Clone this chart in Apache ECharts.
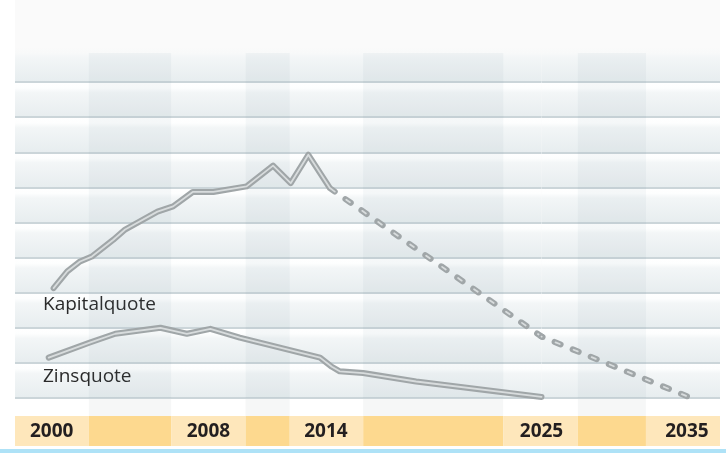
<!DOCTYPE html>
<html>
<head>
<meta charset="utf-8">
<script src="https://cdn.jsdelivr.net/npm/echarts@6/dist/echarts.min.js"></script>
<style>
  html, body { margin: 0; padding: 0; background: #fff; }
  #wrap { position: relative; width: 726px; height: 453px; }
  #panel { position: absolute; left: 15px; top: 0; width: 705px; height: 446px; background: #fafafa; }
  #chart { position: absolute; left: 0; top: 0; width: 726px; height: 453px; }
</style>
</head>
<body>
<div id="wrap"><div id="panel"></div><div id="chart"></div></div>
<script>
// values (x = year, y = share in grid units)
const yearLabels = [2000, 2008, 2014, 2025, 2035];

const kapitalYears  = [2000.1, 2000.8, 2001.45, 2002.05, 2003.15, 2003.75, 2005.4, 2006.2, 2007.2, 2008.25, 2009.95, 2011.3, 2012.2, 2013.1, 2014.2, 2014.45];
const kapitalValues = [3.13, 3.61, 3.89, 4.03, 4.51, 4.8, 5.31, 5.46, 5.87, 5.87, 6.03, 6.62, 6.12, 6.93, 5.98, 5.88];

// projection (dashed)
const kapitalProjYears  = [2014.45, 2025];
const kapitalProjValues = [5.88, 1.75];
const kapitalFarYears   = [2025, 2035];
const kapitalFarValues  = [1.75, 0.05];

const zinsYears  = [1999.85, 2001.95, 2003.25, 2005.55, 2006.9, 2008.1, 2009.6, 2013.7, 2014.3, 2014.7, 2015.9, 2018.6, 2025];
const zinsValues = [1.15, 1.58, 1.83, 2.0, 1.83, 1.97, 1.72, 1.15, 0.89, 0.76, 0.71, 0.47, 0.03];

// column edges of the background stripes [grid, year]; light / dark alternate
const columnEdges = [[0, 1998.13], [0, 2001.9], [0, 2006.1], [0, 2009.9], [0, 2012.15], [0, 2015.9], [0, 2023.05], [1, 2027.5], [1, 2032.18], [1, 2037.27]];

const pairs = (xs, ys) => xs.map((x, i) => [x, ys[i]]);

const chart = echarts.init(document.getElementById('chart'), null, { renderer: 'canvas' });

// each band: white strip under the line above, then fading darker to its own line
const G = echarts.graphic.LinearGradient;
const bandFill = (top) => new G(0, 0, 0, 1, [
  { offset: 0, color: top },
  { offset: 0.17, color: top === '#ffffff' ? '#fdfefe' : '#f8f9f9' },
  { offset: 0.3, color: '#f3f6f7' },
  { offset: 1, color: '#e7edef' }
]);
const bandColors = [];
for (let i = 0; i < 10; i++) bandColors.push(bandFill(i === 9 ? '#fafafa' : '#ffffff'));

const gapColor = 'rgba(110, 140, 150, 0.06)';
const lineGrey = '#a0a6a8';
const lineLight = '#d8dcdd';
const dashLen = 6.5, innerDash = 4.5, dashPeriod = 19.5;

const yAxisCfg = (gi) => ({
  type: 'value',
  gridIndex: gi,
  min: 0,
  max: 10,
  interval: 1,
  axisLine: { show: false },
  axisTick: { show: false },
  axisLabel: { show: false },
  splitLine: { show: true, showMaxLine: false, lineStyle: { color: '#cbd5d9', width: 2 } },
  splitArea: { show: true, areaStyle: { color: bandColors } }
});

const gapAreas = (gi) => {
  const out = [];
  for (let i = 1; i < columnEdges.length - 1; i += 2) {
    const a = columnEdges[i], b = columnEdges[i + 1];
    if (a[0] === gi && b[0] === gi) out.push([{ xAxis: a[1], yAxis: 0 }, { xAxis: b[1], yAxis: 9.83 }]);
  }
  return out;
};

const line = (id, gi, data, width, color) => ({
  id: id,
  type: 'line',
  xAxisIndex: gi,
  yAxisIndex: gi,
  data: data,
  showSymbol: false,
  symbol: 'none',
  z: 3,
  lineStyle: { width: width, color: color, cap: 'round', join: 'round' }
});

const option = {
  animation: false,
  backgroundColor: 'transparent',
  grid: [
    { left: 15, top: 47, width: 526.5, height: 351 },
    { left: 541.5, top: 47, width: 178.5, height: 351 }
  ],
  xAxis: [
    { type: 'value', gridIndex: 0, min: 1998.13, max: 2025, show: false },
    { type: 'value', gridIndex: 1, min: 2025, max: 2037.27, show: false }
  ],
  yAxis: [yAxisCfg(0), yAxisCfg(1)],
  series: [
    { type: 'line', xAxisIndex: 0, yAxisIndex: 0, data: [], z: 1,
      markArea: { silent: true, itemStyle: { color: gapColor }, data: gapAreas(0) } },
    { type: 'line', xAxisIndex: 1, yAxisIndex: 1, data: [], z: 1,
      markArea: { silent: true, itemStyle: { color: gapColor }, data: gapAreas(1) } },

    line('zins', 0, pairs(zinsYears, zinsValues), 6, lineGrey),
    line('zinsIn', 0, pairs(zinsYears, zinsValues), 1.8, lineLight),

    line('kap', 0, pairs(kapitalYears, kapitalValues), 6, lineGrey),
    line('kapIn', 0, pairs(kapitalYears, kapitalValues), 1.8, lineLight),

    line('proj0', 0, pairs(kapitalProjYears, kapitalProjValues), 6, lineGrey),
    line('proj0In', 0, pairs(kapitalProjYears, kapitalProjValues), 1.8, lineLight),

    line('proj1', 1, pairs(kapitalFarYears, kapitalFarValues), 6, lineGrey),
    line('proj1In', 1, pairs(kapitalFarYears, kapitalFarValues), 1.8, lineLight)
  ]
};

chart.setOption(option);

const toPx = (gi, year, v) => chart.convertToPixel({ xAxisIndex: gi, yAxisIndex: gi }, [year, v || 0]);
const segLen = (gi, xs, ys) => {
  const a = toPx(gi, xs[0], ys[0]), b = toPx(gi, xs[1], ys[1]);
  return Math.hypot(b[0] - a[0], b[1] - a[1]);
};

// dash pattern that starts with a gap after the solid part and ends on a dash at 2035,
// continuing across the two grids
const len0 = segLen(0, kapitalProjYears, kapitalProjValues);
const len1 = segLen(1, kapitalFarYears, kapitalFarValues);
const total = len0 + len1;
const period = total / Math.round(total / dashPeriod);
const gap = period - dashLen;
const off0 = dashLen;
const off1 = (off0 + len0) % period;
const dashStyle = (off, inner) => ({
  lineStyle: {
    type: inner ? [innerDash, period - innerDash] : [dashLen, gap],
    dashOffset: inner ? off - (dashLen - innerDash) / 2 : off
  }
});
chart.setOption({
  series: [
    Object.assign({ id: 'proj0' }, dashStyle(off0, false)),
    Object.assign({ id: 'proj0In' }, dashStyle(off0, true)),
    Object.assign({ id: 'proj1' }, dashStyle(off1, false)),
    Object.assign({ id: 'proj1In' }, dashStyle(off1, true))
  ]
});

// bottom strip, year band and series names
const baseY = toPx(0, 2000, 0)[1];
const elements = [];
const stripTop = baseY + 1, bandTop = 416, bandBottom = 446;

for (let i = 0; i < columnEdges.length - 1; i++) {
  const x0 = toPx(columnEdges[i][0], columnEdges[i][1])[0];
  const x1 = toPx(columnEdges[i + 1][0], columnEdges[i + 1][1])[0];
  const dark = i % 2 === 1;
  elements.push({ type: 'rect', shape: { x: x0, y: stripTop, width: x1 - x0, height: bandTop - stripTop },
    style: { fill: dark ? '#f6f7f7' : '#ffffff' }, silent: true });
  elements.push({ type: 'rect', shape: { x: x0, y: bandTop, width: x1 - x0, height: bandBottom - bandTop },
    style: { fill: dark ? '#fdd98f' : '#fee7bb' }, silent: true });
}

yearLabels.forEach((yr) => {
  const gi = yr > 2025 ? 1 : 0;
  const x = toPx(gi, yr)[0];
  elements.push({ type: 'text', x: x, y: 432,
    style: { text: String(yr), align: 'center', verticalAlign: 'middle',
      font: 'bold 19px "Open Sans"', fill: '#231f20' }, silent: true });
});

elements.push({ type: 'rect', shape: { x: 0, y: 449, width: 726, height: 4 }, style: { fill: '#aee2f7' }, silent: true });

elements.push({ type: 'text', x: 43, y: 305,
  style: { text: 'Kapitalquote', align: 'left', verticalAlign: 'middle', font: '19px "Open Sans"', fill: '#2a2a2a' }, silent: true });
elements.push({ type: 'text', x: 43, y: 377,
  style: { text: 'Zinsquote', align: 'left', verticalAlign: 'middle', font: '19px "Open Sans"', fill: '#2a2a2a' }, silent: true });

chart.setOption({ graphic: { elements: elements } });
</script>
</body>
</html>
